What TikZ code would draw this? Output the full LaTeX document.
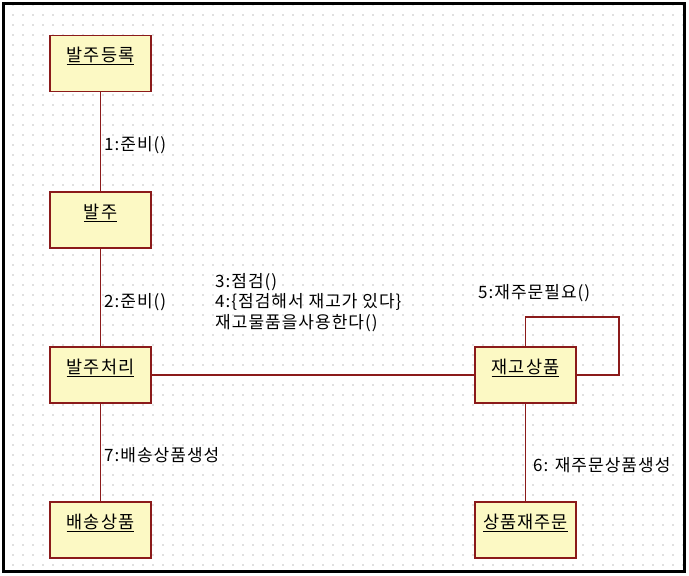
\documentclass[tikz,border=0pt]{standalone}
\usepackage{fontspec}
\setmainfont{Noto Sans CJK KR}[LetterSpace=6]
\usetikzlibrary{calc}
\definecolor{boxfill}{HTML}{FCF9C4}
\definecolor{boxline}{HTML}{8B1A1A}
\definecolor{griddot}{HTML}{E0E0E0}
\tikzset{
  objbox/.style={draw=boxline, fill=boxfill, line width=1.3pt, minimum width=101pt,
    inner xsep=0pt, inner ysep=6pt, text height=20pt, text depth=24pt,
    font=\fontsize{17.5}{20}\selectfont},
  link/.style={draw=boxline, line width=1.3pt},
  msg/.style={anchor=west, inner sep=0pt, font=\fontsize{17}{21}\selectfont, align=left}
}
\begin{document}
\begin{tikzpicture}[x=1pt, y=-1pt]
\useasboundingbox (0,0) rectangle (689,576);
\fill[white] (0,0) rectangle (689,576);
% dotted grid
\foreach \i in {0,...,68} {
  \foreach \j in {0,...,56} {
    \fill[griddot] ({3+10*\i-0.8},{5+10*\j-0.8}) rectangle ++(1.6,1.6);
  }
}
\draw[black, line width=3pt] (3,3) rectangle (684,571);

% objects
\node[objbox] (reg) at (100.5,63.5) {\underline{발주등록}};
\node[objbox] (ord) at (100.5,220) {\underline{발주}};
\node[objbox] (proc) at (100.5,375) {\underline{발주처리}};
\node[objbox] (ship) at (100.5,530) {\underline{배송상품}};
\node[objbox] (stock) at (525.5,375) {\underline{재고상품}};
\node[objbox] (reord) at (525.5,530) {\underline{상품재주문}};

% links
\draw[link] (reg) -- (ord);
\draw[link] (ord) -- (proc);
\draw[link] (proc) -- (ship);
\draw[link] (proc) -- (stock);
\draw[link] (stock) -- (reord);
\coordinate (loopc) at (619,317);
\draw[link] (stock.north) |- (loopc) |- (stock.east);

% messages
\node[msg] (m1) at (104,145) {1:준비()};
\node[msg] (m2) at (104,302) {2:준비()};
\node[msg] (m3) at (215,282) {3:점검()};
\node[msg] (m4) at (215,302) {4:\{점검해서 재고가 있다\}};
\node[msg] (m4b) at (215,323) {재고물품을사용한다()};
\node[msg] (m5) at (478,293) {5:재주문필요()};
\node[msg] (m7) at (104,455) {7:배송상품생성};
\node[msg] (m6) at (533,465) {6: 재주문상품생성};
\end{tikzpicture}
\end{document}
